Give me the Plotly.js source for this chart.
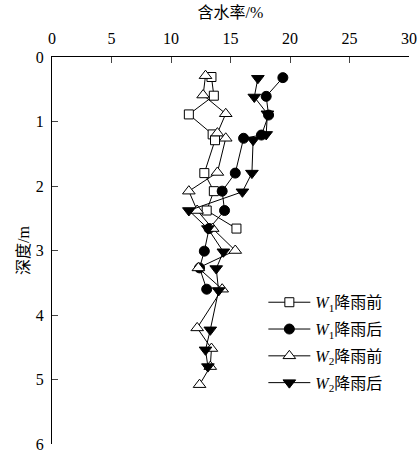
<!DOCTYPE html>
<html>
<head>
<meta charset="utf-8">
<script src="https://cdn.plot.ly/plotly-3.0.1.min.js"></script>
<style>html,body{margin:0;padding:0;background:#fff;}#chart{width:420px;height:455px;}</style>
</head>
<body>
<div id="chart"></div>
<script>
// W1 降雨前 (open squares)
const w1BeforeDepth = [0.31, 0.60, 0.89, 1.20, 1.29, 1.80, 2.08, 2.38, 2.66];
const w1BeforeWater = [13.4, 13.6, 11.5, 13.5, 13.7, 12.8, 13.6, 13.0, 15.5];
// W1 降雨后 (filled circles)
const w1AfterDepth = [0.32, 0.61, 0.90, 1.21, 1.26, 1.80, 2.08, 2.38, 2.66, 3.01, 3.27, 3.60];
const w1AfterWater = [19.4, 18.0, 18.2, 17.6, 16.1, 15.4, 14.3, 14.5, 13.2, 12.8, 12.4, 13.0];
// W2 降雨前 (open triangles)
const w2BeforeDepth = [0.29, 0.59, 0.88, 1.18, 1.26, 1.79, 2.08, 2.38, 2.66, 3.00, 3.27, 3.60, 4.20, 4.52, 4.80, 5.08];
const w2BeforeWater = [12.9, 12.7, 14.6, 13.9, 14.6, 13.9, 11.5, 12.2, 13.5, 15.4, 12.3, 14.3, 12.2, 13.4, 13.3, 12.4];
// W2 降雨后 (filled down triangles)
const w2AfterDepth = [0.33, 0.62, 0.88, 1.20, 1.29, 1.80, 2.09, 2.38, 2.66, 3.02, 3.28, 3.62, 4.23, 4.54, 4.80];
const w2AfterWater = [17.3, 17.0, 18.1, 18.0, 16.9, 16.8, 16.0, 11.5, 13.1, 14.4, 13.8, 14.0, 13.3, 12.9, 13.1];

const xTicks = [0, 5, 10, 15, 20, 25, 30];
const yTicks = [0, 1, 2, 3, 4, 5, 6];

const names = ['<i>W</i><sub>1</sub>降雨前', '<i>W</i><sub>1</sub>降雨后', '<i>W</i><sub>2</sub>降雨前', '<i>W</i><sub>2</sub>降雨后'];

const FONT = '"Liberation Serif", "Times New Roman", "Noto Sans CJK SC", serif';

function tr(x, y, name, symbol, size, fill, group) {
  return {
    x: x, y: y, name: name, type: 'scatter', mode: 'lines+markers', legendgroup: group,
    line: {color: '#000', width: 1},
    marker: {symbol: symbol, size: size, color: fill, line: {color: '#000', width: 1}}
  };
}

const data = [
  tr(w1BeforeWater, w1BeforeDepth, names[0], 'square', 9, '#fff', 'a'),
  tr(w1AfterWater, w1AfterDepth, names[1], 'circle', 10, '#000', 'b'),
  tr(w2BeforeWater, w2BeforeDepth, names[2], 'triangle-up', 11, '#fff', 'c'),
  tr(w2AfterWater, w2AfterDepth, names[3], 'triangle-down', 11, '#000', 'd')
];

const layout = {
  width: 420, height: 455,
  margin: {l: 52, r: 11, t: 57, b: 11},
  paper_bgcolor: '#fff', plot_bgcolor: '#fff',
  font: {family: FONT, size: 16, color: '#000'},
  showlegend: true,
  legend: {x: 0.592, y: 0.41, xanchor: 'left', yanchor: 'top', bgcolor: 'rgba(0,0,0,0)',
           font: {family: FONT, size: 16}, tracegroupgap: 3, itemwidth: 42},
  xaxis: {
    side: 'top', range: [0, 30], tickvals: xTicks, ticks: 'inside', ticklen: 6,
    showline: true, linecolor: '#000', linewidth: 1, showgrid: false, zeroline: false,
    tickfont: {family: FONT, size: 16}, ticklabelstandoff: 6,
    title: {text: '含水率/%', font: {family: FONT, size: 16}, standoff: 6}
  },
  yaxis: {
    range: [6, 0], tickvals: yTicks, ticks: 'inside', ticklen: 6,
    showline: true, linecolor: '#000', linewidth: 1, showgrid: false, zeroline: false,
    tickfont: {family: FONT, size: 16}, ticklabelstandoff: 4,
    title: {text: '深度/m', font: {family: FONT, size: 16}, standoff: 2}
  }
};

Plotly.newPlot('chart', data, layout, {staticPlot: true, displayModeBar: false});
</script>
</body>
</html>
